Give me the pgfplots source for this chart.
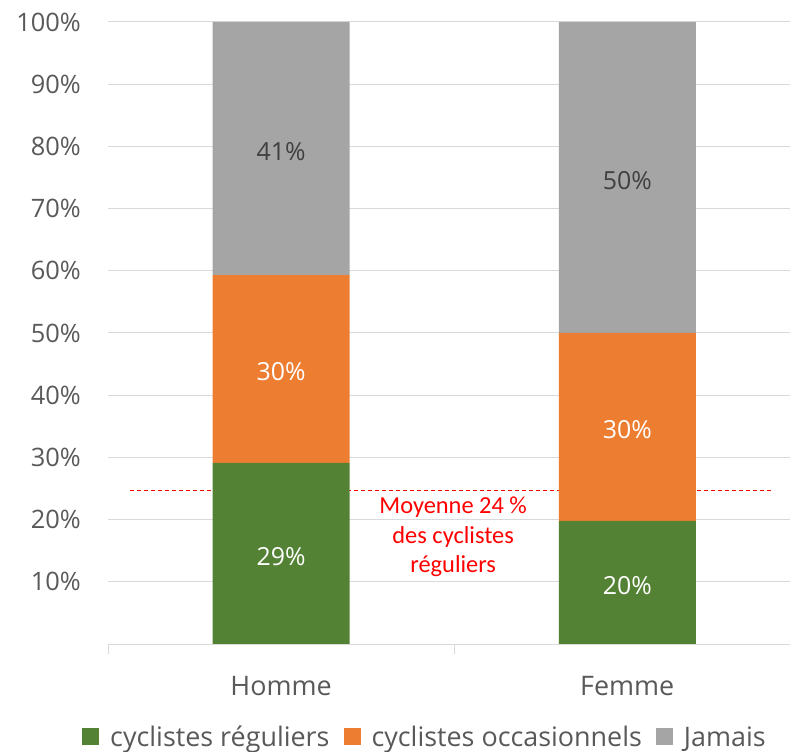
\documentclass[border=0pt]{standalone}
\usepackage{pgfplots}
\pgfplotsset{compat=1.18}
\usepackage{fontspec}
\setmainfont{Open Sans}
\newfontfamily\calibri{Carlito}
\definecolor{cgreen}{HTML}{548235}
\definecolor{corange}{HTML}{ED7D31}
\definecolor{cgray}{HTML}{A5A5A5}
\definecolor{ctext}{HTML}{595959}
\definecolor{cgrid}{HTML}{D9D9D9}
\definecolor{cdark}{HTML}{404040}
\definecolor{cred}{HTML}{FF0000}
\begin{document}
\begin{tikzpicture}
\useasboundingbox (0,0) rectangle (790bp,752bp);
% background axis: average line and annotation
\begin{axis}[
  at={(108bp,108bp)}, anchor=south west,
  scale only axis, width=682bp, height=622bp,
  xmin=-0.5, xmax=1.47, ymin=0, ymax=100,
  hide axis, clip=false,
]
\addplot[draw=cred, line width=1bp, dash pattern=on 4bp off 3bp, mark=none] coordinates {(-0.436,24.6) (1.422,24.6)};
\node[text=cred, align=center, font=\calibri\fontsize{24.5}{29.5}\selectfont] at (axis cs:0.497,17.2) {Moyenne 24 \%\\des cyclistes\\réguliers};
\end{axis}
% bars
\begin{axis}[
  at={(108bp,108bp)}, anchor=south west,
  scale only axis, width=682bp, height=622bp,
  xmin=-0.5, xmax=1.47, ymin=0, ymax=100,
  ybar stacked, bar width=137bp,
  axis lines*=left,
  x axis line style={draw=cgrid, line width=1bp},
  y axis line style={draw=none},
  ymajorgrids, grid style={draw=cgrid, line width=1bp},
  ytick={10,20,...,100},
  yticklabel={\pgfmathprintnumber{\tick}\%},
  xtick={0,1}, xticklabels={Homme,Femme},
  minor xtick={-0.5,0.5,1.5},
  major tick length=0pt, minor tick length=10bp, tick align=outside,
  minor x tick style={draw=cgrid, line width=1bp},
  /pgf/number format/assume math mode=true,
  yticklabel style={font=\fontsize{25.5}{30}\selectfont, text=ctext, anchor=east, inner sep=0pt, xshift=-27bp},
  xticklabel style={font=\fontsize{27}{30}\selectfont, text=ctext, anchor=center, inner sep=0pt, yshift=-42bp},
  point meta=explicit symbolic,
  nodes near coords,
  every node near coord/.append style={anchor=center, font=\fontsize{25}{30}\selectfont, yshift=-3bp},
  legend style={at={(axis description cs:0.4648,-0.1495)}, anchor=center, draw=none, fill=none, legend columns=-1, font=\fontsize{27}{30}\selectfont, text=ctext, inner sep=0pt,
    /tikz/every even column/.append style={column sep=12bp},
    /tikz/every odd column/.append style={column sep=9bp}},
]
\addplot[fill=cgreen, draw=none, every node near coord/.append style={text=white},
  legend image code/.code={\fill[cgreen] (0bp,-8.5bp) rectangle (17bp,8.5bp);}]
  coordinates {(0,29.1)[29\%] (1,19.8)[20\%]};
\addplot[fill=corange, draw=none, every node near coord/.append style={text=white},
  legend image code/.code={\fill[corange] (0bp,-8.5bp) rectangle (17bp,8.5bp);}]
  coordinates {(0,30.2)[30\%] (1,30.2)[30\%]};
\addplot[fill=cgray, draw=none, every node near coord/.append style={text=cdark},
  legend image code/.code={\fill[cgray] (0bp,-8.5bp) rectangle (17bp,8.5bp);}]
  coordinates {(0,40.7)[41\%] (1,50.0)[50\%]};
\legend{cyclistes réguliers, cyclistes occasionnels, Jamais}
\end{axis}
\end{tikzpicture}
\end{document}
